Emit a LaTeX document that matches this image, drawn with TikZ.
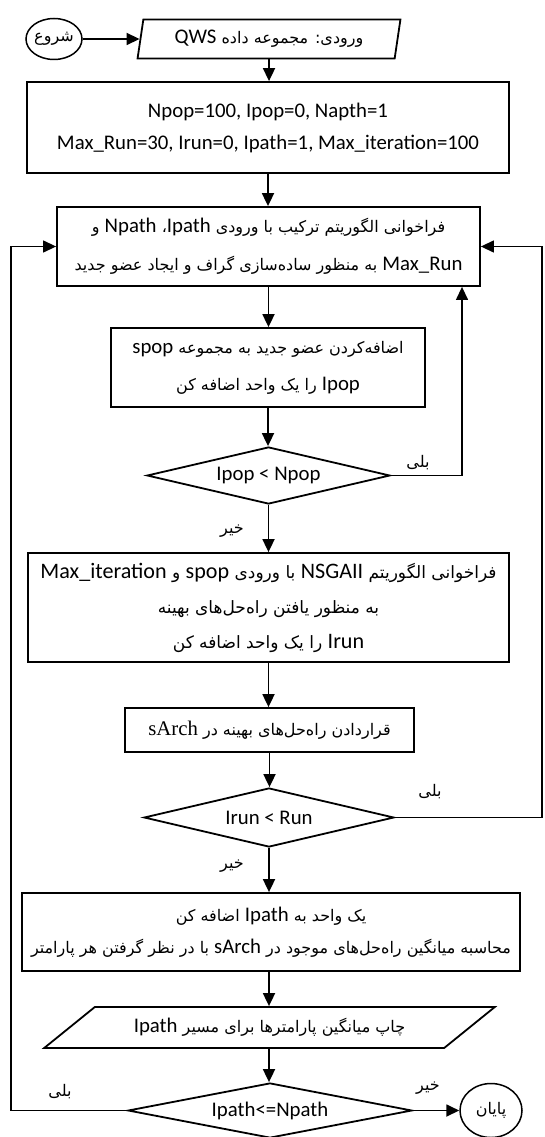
\documentclass[tikz,border=0pt]{standalone}
\usepackage{fontspec}
\setmainfont{Carlito}
\newfontfamily\arfont[Script=Arabic]{DejaVu Sans}
\newfontfamily\latf{Carlito}[Scale=1.3]
\newfontfamily\serf{Liberation Serif}[Scale=1.3]
\TeXXeTstate=1
\usetikzlibrary{shapes.geometric, arrows.meta}
\newcommand{\lat}[1]{{\latf\beginL #1\endL}}
\tikzstyle{arrow}    = [line width=1.8pt, -{Triangle[length=13pt,width=12pt]}]
\tikzstyle{loop}     = [line width=1.3pt, -{Triangle[length=13pt,width=12pt]}]
\tikzstyle{process}  = [draw, line width=1.8pt, rectangle, align=center, inner sep=0pt]
\tikzstyle{decision} = [draw, line width=1.8pt, diamond, aspect=4.3, inner sep=0pt]
\tikzstyle{io}       = [draw, line width=1.8pt, trapezium, trapezium stretches=true, inner sep=0pt]
\tikzstyle{terminal} = [draw, line width=1.5pt, ellipse, inner sep=0pt]
\tikzstyle{lbl}      = [inner sep=0pt]
\begin{document}
\begin{tikzpicture}[x=1pt, y=-1pt, font=\arfont\fontsize{16}{32}\selectfont]
\useasboundingbox (0,0) rectangle (544,1137);

% start and input
\node[terminal, minimum width=56pt, minimum height=41pt] (start) at (54,39) {\beginR شروع\endR};
\node[io, trapezium left angle=76, trapezium right angle=104, minimum width=263pt, minimum height=39pt] (inp) at (269,39) {\beginR ورودی: مجموعه داده \lat{QWS}\endR};

% parameters
\node[process, minimum width=482pt, minimum height=91pt, font=\fontsize{16}{32}\selectfont\latf] (init) at (268,127.5) {Npop=100, Ipop=0, Napth=1\\Max\_Run=30, Irun=0, Ipath=1, Max\_iteration=100};

% building the population
\node[process, minimum width=423pt, minimum height=79pt, font=\arfont\fontsize{16}{38}\selectfont] (call) at (268.5,246.5) {\beginR فراخوانی الگوریتم ترکیب با ورودی \lat{Ipath}، \lat{Npath} و\endR\\\beginR \lat{Max\_Run} به منظور ساده^^^^200cسازی گراف و ایجاد عضو جدید\endR};
\node[process, minimum width=314pt, minimum height=79pt, font=\arfont\fontsize{16}{37}\selectfont] (add) at (268,367.5) {\beginR اضافه^^^^200cکردن عضو جدید به مجموعه \lat{spop}\endR\\\beginR \lat{Ipop} را یک واحد اضافه کن\endR};
\node[decision, minimum width=243pt, minimum height=57pt] (d1) at (268.5,475.5) {\lat{Ipop < Npop}};

% NSGAII
\node[process, minimum width=481pt, minimum height=109pt, font=\arfont\fontsize{17}{35}\selectfont] (nsga) at (268.5,607.5) {\beginR فراخوانی الگوریتم \lat{NSGAII} با ورودی \lat{spop} و \lat{Max\_iteration}\endR\\\beginR به منظور یافتن راه^^^^200cحل^^^^200cهای بهینه\endR\\\beginR \lat{Irun} را یک واحد اضافه کن\endR};
\node[process, minimum width=289pt, minimum height=44pt] (arch) at (269.5,730) {\beginR قراردادن راه^^^^200cحل^^^^200cهای بهینه در {\serf\beginL sArch\endL}\endR};
\node[decision, minimum width=250pt, minimum height=59pt] (d2) at (269,817.5) {\lat{Irun < Run}};

% path
\node[process, minimum width=498pt, minimum height=78pt] (avg) at (271,932) {\beginR یک واحد به \lat{Ipath} اضافه کن\endR\\\beginR محاسبه میانگین راه^^^^200cحل^^^^200cهای موجود در \lat{sArch} با در نظر گرفتن هر پارامتر\endR};
\node[io, trapezium left angle=25, trapezium right angle=155, minimum width=451pt, minimum height=41pt] (out) at (269.5,1027.5) {\beginR چاپ میانگین پارامترها برای مسیر \lat{Ipath}\endR};
\node[decision, minimum width=284pt, minimum height=55pt] (d3) at (270,1110.5) {\lat{Ipath<=Npath}};
\node[terminal, minimum width=62pt, minimum height=54pt] (end) at (491,1110.5) {\beginR پایان\endR};

% labels
\node[lbl] (y1) at (418,463) {\beginR بلی\endR};
\node[lbl] (n1) at (232,531) {\beginR خیر\endR};
\node[lbl] (y2) at (430,792) {\beginR بلی\endR};
\node[lbl] (n2) at (232,866) {\beginR خیر\endR};
\node[lbl] (y3) at (60,1092) {\beginR بلی\endR};
\node[lbl] (n3) at (428,1088) {\beginR خیر\endR};

% main flow
\draw[arrow] (start) -- (inp);
\draw[arrow] (inp.south |- inp.bottom side) -- (inp.south |- init.north);
\draw[arrow] (init.south) -- (init.south |- call.north);
\draw[arrow] (call.south) -- (call.south |- add.north);
\draw[arrow] (add.south) -- (add.south |- d1.north);
\draw[arrow] (d1.south) -- (d1.south |- nsga.north);
\draw[arrow] (nsga.south) -- (nsga.south |- arch.north);
\draw[arrow] (arch.south) -- (arch.south |- d2.north);
\draw[arrow] (d2.south) -- (d2.south |- avg.north);
\draw[arrow] (d2.south |- avg.south) -- (d2.south |- out.north);
\draw[arrow] (d2.south |- out.south) -- (d2.south |- d3.north);
\draw[arrow] (d3) -- (end);

% loops
\coordinate (r1) at (462,475.5);
\coordinate (r2) at (542,817.5);
\coordinate (l3) at (11,1110.5);
\draw[loop] (d1.east) -- (r1) -- (r1 |- call.south);
\draw[loop] (d2.east) -- (r2) |- (call.east);
\draw[loop] (d3.west) -- (l3) |- (call.west);

\end{tikzpicture}
\end{document}
